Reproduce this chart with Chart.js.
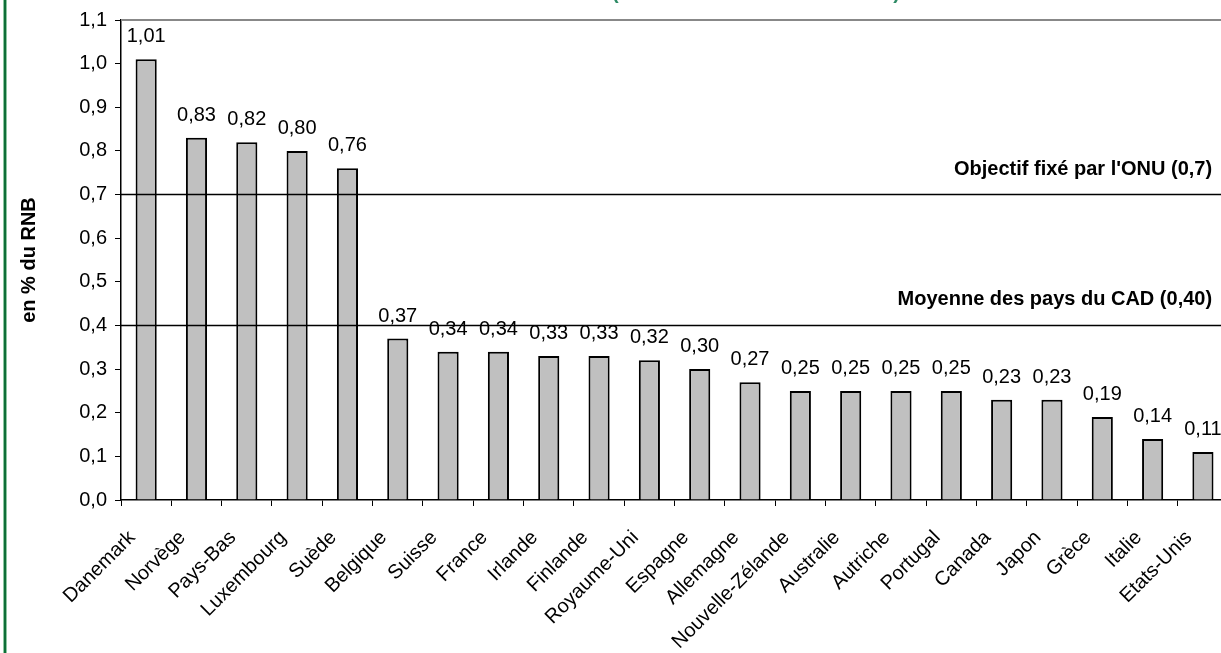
<!DOCTYPE html>
<html lang="fr">
<head>
<meta charset="utf-8">
<title>APD en % du RNB</title>
<script src="https://cdn.jsdelivr.net/npm/chart.js@4.4.1/dist/chart.umd.min.js"></script>
<style>
  html, body { margin: 0; padding: 0; background: #fff; overflow: hidden; }
  #wrap { position: relative; width: 1221px; height: 653px; overflow: hidden; }
  #aidChart { position: absolute; left: 0; top: 0; }
  .frame-edge {
    position: absolute; left: 3px; top: 0; width: 2px; height: 653px;
    background: #0e6e38; border-left: 1px solid #8cc7a0; border-right: 1px solid #8cc7a0;
  }
</style>
</head>
<body>
<div id="wrap">
  <canvas id="aidChart" width="1240" height="653"></canvas>
  <div class="frame-edge"></div>
</div>
<script>
// Data
const countries = ['Danemark', 'Norvège', 'Pays-Bas', 'Luxembourg', 'Suède', 'Belgique', 'Suisse',
  'France', 'Irlande', 'Finlande', 'Royaume-Uni', 'Espagne', 'Allemagne', 'Nouvelle-Zélande',
  'Australie', 'Autriche', 'Portugal', 'Canada', 'Japon', 'Grèce', 'Italie', 'Etats-Unis'];
const aidValues = [1.01, 0.83, 0.82, 0.80, 0.76, 0.37, 0.34, 0.34, 0.33, 0.33, 0.32,
  0.30, 0.27, 0.25, 0.25, 0.25, 0.25, 0.23, 0.23, 0.19, 0.14, 0.11];
const yTickValues = [0, 0.1, 0.2, 0.3, 0.4, 0.5, 0.6, 0.7, 0.8, 0.9, 1.0, 1.1];
const refValues = [0.7, 0.4];
const refLabels = ["Objectif fixé par l'ONU (0,7)", 'Moyenne des pays du CAD (0,40)'];
const chartTitle = '(en % du revenu national brut)';

const FONT = '"Liberation Sans", Arial, sans-serif';
const fmt = (v, d) => v.toFixed(d).replace('.', ',');

// Title sits mostly above the visible area, only the bracket tails show
const cutTitle = {
  id: 'cutTitle',
  afterDraw(chart) {
    const ctx = chart.ctx;
    ctx.save();
    ctx.font = 'bold 20px ' + FONT;
    ctx.fillStyle = '#2e8b66';
    ctx.textBaseline = 'alphabetic';
    ctx.fillText(chartTitle, 612, -1);
    ctx.restore();
  }
};

// Plot area top border (grey)
const plotFrame = {
  id: 'plotFrame',
  beforeDatasetsDraw(chart) {
    const {ctx, chartArea} = chart;
    ctx.save();
    ctx.strokeStyle = '#888';
    ctx.lineWidth = 2;
    ctx.beginPath();
    ctx.moveTo(chartArea.left, chartArea.top);
    ctx.lineTo(chartArea.right, chartArea.top);
    ctx.stroke();
    ctx.restore();
  }
};

// UN target and DAC average
const refLines = {
  id: 'refLines',
  afterDatasetsDraw(chart) {
    const {ctx, chartArea, scales: {y}} = chart;
    ctx.save();
    ctx.strokeStyle = '#000';
    ctx.lineWidth = 1.5;
    ctx.fillStyle = '#000';
    ctx.font = 'bold 20px ' + FONT;
    ctx.textAlign = 'right';
    refValues.forEach((v, i) => {
      const py = y.getPixelForValue(v);
      ctx.beginPath();
      ctx.moveTo(chartArea.left, py);
      ctx.lineTo(chartArea.right, py);
      ctx.stroke();
      ctx.fillText(refLabels[i], chartArea.right - 16, py - 20);
    });
    ctx.restore();
  }
};

// Value above each bar
const valueLabels = {
  id: 'valueLabels',
  afterDatasetsDraw(chart) {
    const ctx = chart.ctx;
    ctx.save();
    ctx.font = '20px ' + FONT;
    ctx.fillStyle = '#000';
    ctx.textAlign = 'center';
    chart.getDatasetMeta(0).data.forEach((bar, i) => {
      ctx.fillText(fmt(aidValues[i], 2), bar.x, bar.y - 17);
    });
    ctx.restore();
  }
};

const initializeAidChart = () => {
  const ctx = document.getElementById('aidChart').getContext('2d');
  new Chart(ctx, {
    type: 'bar',
    data: {
      labels: countries,
      datasets: [{
        data: aidValues,
        backgroundColor: '#c0c0c0',
        borderColor: '#000',
        borderWidth: 2,
        barPercentage: 0.42,
        categoryPercentage: 1
      }]
    },
    options: {
      responsive: false,
      animation: false,
      layout: { padding: { top: 16, right: 4, left: 0, bottom: 0 } },
      plugins: {
        legend: { display: false },
        tooltip: { enabled: false }
      },
      scales: {
        x: {
          grid: { offset: true, drawOnChartArea: false, tickLength: 6, color: '#000', lineWidth: 1 },
          border: { color: '#000', width: 1.5 },
          ticks: {
            autoSkip: false,
            minRotation: 45,
            maxRotation: 45,
            labelOffset: -14,
            padding: 20,
            color: '#000',
            font: { family: FONT, size: 20 }
          },
          afterFit(scale) { scale.height = 153; }
        },
        y: {
          min: 0,
          max: 1.1,
          afterBuildTicks(scale) { scale.ticks = yTickValues.map(v => ({ value: v })); },
          grid: { drawOnChartArea: false, tickLength: 6, color: '#000' },
          border: { color: '#000', width: 1.5 },
          ticks: {
            padding: 8,
            color: '#000',
            font: { family: FONT, size: 20 },
            callback: v => fmt(v, 1)
          },
          title: {
            display: true,
            text: 'en % du RNB',
            color: '#000',
            font: { family: FONT, size: 20, weight: 'bold' },
            padding: { top: 17, bottom: 0 }
          },
          afterFit(scale) { scale.width = 121; }
        }
      }
    },
    plugins: [plotFrame, refLines, valueLabels, cutTitle]
  });
};

document.addEventListener('DOMContentLoaded', initializeAidChart);
</script>
</body>
</html>
